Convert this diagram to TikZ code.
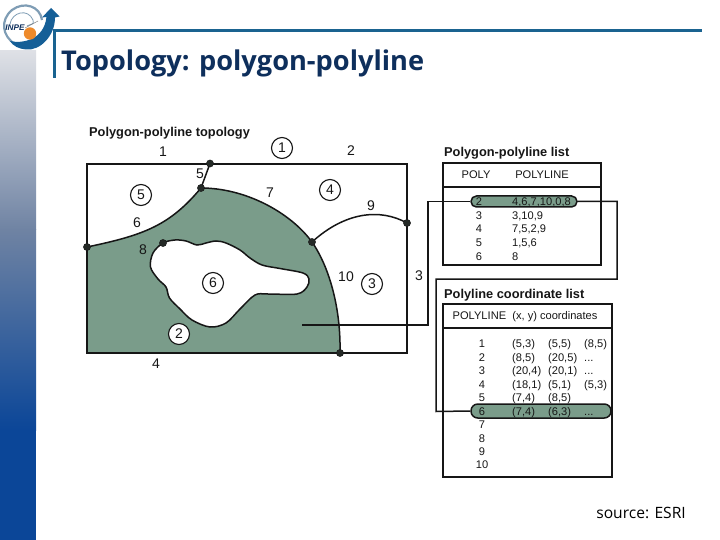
\documentclass[tikz,border=0pt]{standalone}
\usepackage{fontspec}
\setmainfont{Liberation Sans}
\newfontfamily\slidefont{Open Sans}
\usetikzlibrary{calc}
\definecolor{areagreen}{HTML}{7A9C8A}
\definecolor{inkblack}{HTML}{161616}
\definecolor{rulecol}{HTML}{1A6390}
\definecolor{navy}{HTML}{0E2F5C}
\definecolor{swoosh}{HTML}{155F97}
\definecolor{orangedot}{HTML}{EE8A2B}
\definecolor{barTop}{HTML}{DFE1E6}
\definecolor{barMid}{HTML}{6F83A3}
\definecolor{barLow}{HTML}{0B4698}
\definecolor{ringcol}{HTML}{7F9DB5}
\tikzset{
  x=1pt,y=-1pt,
  edge/.style={draw=inkblack,line width=1.5pt},
  vertexdot/.style={circle,fill=inkblack!85!areagreen,draw=inkblack,line width=.4pt,minimum size=7.2pt,inner sep=0pt},
  polyid/.style={circle,draw=inkblack,line width=1.1pt,minimum size=21pt,inner sep=0pt,font=\fontsize{14}{14}\selectfont,text=inkblack},
  polyidg/.style={polyid,fill=white},
  lab/.style={font=\fontsize{14}{14}\selectfont,text=inkblack,inner sep=0pt},
  heading/.style={font=\bfseries\fontsize{12.8}{13}\selectfont,text=inkblack,inner sep=0pt,anchor=west},
  cell/.style={font=\fontsize{11.1}{12}\selectfont,text=inkblack,inner sep=0pt,text height=8pt,text depth=0pt},
  cellw/.style={cell,anchor=west},
  pill/.style={draw=inkblack,line width=1.5pt,fill=areagreen,rounded corners=5.4pt},
  tablebox/.style={draw=inkblack,line width=1.5pt},
  link/.style={draw=inkblack,line width=1.5pt},
}
\begin{document}
\begin{tikzpicture}
\useasboundingbox (0,0) rectangle (720,540);
\fill[white] (0,0) rectangle (720,540);
% side bar
\shade[top color=barTop,bottom color=barMid] (0,50) rectangle (36,230);
\shade[top color=barMid,bottom color=barLow] (0,229.5) rectangle (36,430);
\fill[barLow] (0,429.5) rectangle (36,540);
% logo
\fill[white] (0,0) rectangle (60,50);
\draw[ringcol,line width=2.2pt] (15,44) .. controls (2,36) and (0,20) .. (12,10) .. controls (24,1) and (40,6) .. (42,20);
\draw[ringcol,line width=.8pt] (10,24) .. controls (12,12) and (28,8) .. (33,20) .. controls (35,25) and (30,24) .. (27,26);
\fill[swoosh] (51,8) -- (59.5,16.5) -- (55,17.5) .. controls (55,36) and (40,51) .. (26,49.5) .. controls (19,49) and (13,46) .. (10,41) .. controls (22,44) and (44,40) .. (46.5,17) -- (42,17.5) -- cycle;
\fill[orangedot] (30,33.5) circle (6.2pt);
\draw[black!50,line width=.5pt] (25,28) -- (38,21);
\node[font=\bfseries\itshape\fontsize{8.2}{8}\selectfont,text=navy,inner sep=0pt] (inpe) at (15,27.5) {INPE};
% slide rules
\draw[rulecol,line width=2.8pt] (53,30.5) -- (702,30.5);
\draw[rulecol,line width=2.6pt] (54.3,30) -- (54.3,78.5);
\node[font=\slidefont\bfseries\fontsize{27.2}{30}\selectfont,text=navy,inner sep=0pt,anchor=base west] (title) at (61,71) {Topology: polygon-polyline};
\node[font=\slidefont\fontsize{15.6}{16}\selectfont,text=black,inner sep=0pt,anchor=base east] (src) at (686,518) {source: ESRI};
% map
\node[heading] (maptitle) at (89,133.5) {Polygon-polyline topology};
\fill[areagreen] (87,247) .. controls (145,235) and (170,225) .. (201,188)
  .. controls (245,188) and (290,212) .. (312,242)
  .. controls (330,268) and (341,310) .. (340,353) -- (87,353) -- cycle;
\draw[edge,fill=white] plot[smooth cycle,tension=.55] coordinates {(163,243) (153,253) (150.5,267) (158,279) (166,287) (169.5,298) (180,309) (192,320) (210,327) (226,323) (240,309) (255,295) (268,294) (297,294) (307,287) (309,279) (303,273) (280,268.5) (262,265) (250,258) (240,250) (226,243) (216,241) (206,243) (197,245) (186,241) (175,240)};
\draw[edge] (87,164) rectangle (407,353);
\coordinate (a) at (210,163.5);
\coordinate (b) at (201,188);
\coordinate (c) at (87,247);
\coordinate (d) at (312,242);
\coordinate (e) at (407,223);
\coordinate (f) at (340,353);
\coordinate (g) at (163,243);
\draw[edge] (c) .. controls (145,235) and (170,225) .. (b)
  .. controls (245,188) and (290,212) .. (d)
  .. controls (330,268) and (341,310) .. (f);
\draw[edge] (a) -- (b);
\draw[edge] (d) .. controls (345,212) and (380,208) .. (e);
\node[vertexdot] (va) at (a) {};
\node[vertexdot] (vb) at (b) {};
\node[vertexdot] (vc) at (c) {};
\node[vertexdot] (vd) at (d) {};
\node[vertexdot] (ve) at (e) {};
\node[vertexdot] (vf) at (f) {};
\node[vertexdot] (vg) at (g) {};
\node[lab] (l1) at (163,152) {1};
\node[lab] (l2) at (351,151) {2};
\node[lab] (l3) at (419,276) {3};
\node[lab] (l4) at (156,364) {4};
\node[lab] (l5) at (200,174) {5};
\node[lab] (l6) at (137,223) {6};
\node[lab] (l7) at (270,193) {7};
\node[lab] (l8) at (143,250) {8};
\node[lab] (l9) at (371,206) {9};
\node[lab] (l10) at (346,277) {10};
\node[polyid] (p1) at (282,148) {1};
\node[polyidg] (p2) at (179,334) {2};
\node[polyid] (p3) at (372,284) {3};
\node[polyid] (p4) at (330,190) {4};
\node[polyid] (p5) at (141,195) {5};
\node[polyidg] (p6) at (213,283) {6};
% table 1
\node[heading] (t1title) at (444,153.5) {Polygon-polyline list};
\node[tablebox,minimum width=158pt,minimum height=102pt,inner sep=0pt] (t1) at (522,214) {};
\draw[tablebox] (443,187) -- (601,187);
\node[cell] (t1h1) at (476,174.5) {POLY};
\node[cell] (t1h2) at (542,174.5) {POLYLINE};
\node[pill,minimum width=106pt,minimum height=11pt,inner sep=0pt] (pa) at (524,201.5) {};
\node[cell] at (479,202) {2};
\node[cellw] at (512,202) {4,6,7,10,0,8};
\node[cell] at (479,216) {3};
\node[cellw] at (512,216) {3,10,9};
\node[cell] at (479,229) {4};
\node[cellw] at (512,229) {7,5,2,9};
\node[cell] at (479,243) {5};
\node[cellw] at (512,243) {1,5,6};
\node[cell] at (479,256) {6};
\node[cellw] at (512,256) {8};
% table 2
\node[heading] (t2title) at (444,295.5) {Polyline coordinate list};
\node[tablebox,minimum width=169pt,minimum height=173pt,inner sep=0pt] (t2) at (527.5,390.5) {};
\draw[tablebox] (443,328) -- (612,328);
\node[cellw] (t2h) at (452.5,315.5) {POLYLINE\ \ (x, y) coordinates};
\node[pill,minimum width=140pt,minimum height=14pt,inner sep=0pt,rounded corners=6.8pt] (pb) at (541,411) {};
\foreach \n/\yy in {1/343,2/357,3/370,4/384,5/397,6/411,7/424,8/438,9/451,10/464}
  \node[cell] at (482,\yy) {\n};
\node[cellw] at (512,343) {(5,3)};\node[cellw] at (548,343) {(5,5)};\node[cellw] at (584,343) {(8,5)};
\node[cellw] at (512,357) {(8,5)};\node[cellw] at (548,357) {(20,5)};\node[cellw] at (584,357) {...};
\node[cellw] at (512,370) {(20,4)};\node[cellw] at (548,370) {(20,1)};\node[cellw] at (584,370) {...};
\node[cellw] at (512,384) {(18,1)};\node[cellw] at (548,384) {(5,1)};\node[cellw] at (584,384) {(5,3)};
\node[cellw] at (512,397) {(7,4)};\node[cellw] at (548,397) {(8,5)};
\node[cellw] at (512,411) {(7,4)};\node[cellw] at (548,411) {(6,3)};\node[cellw] at (584,411) {...};
% links
\coordinate (inside) at (302,325);
\draw[link] (inside) -- (428,325) -- (428,201.5) -- (pa.west);
\draw[link] (pa.east) -- (617,201.5) -- (617,279) -- (436,279) -- (436,411.5) -- (pb.west);
\end{tikzpicture}
\end{document}
